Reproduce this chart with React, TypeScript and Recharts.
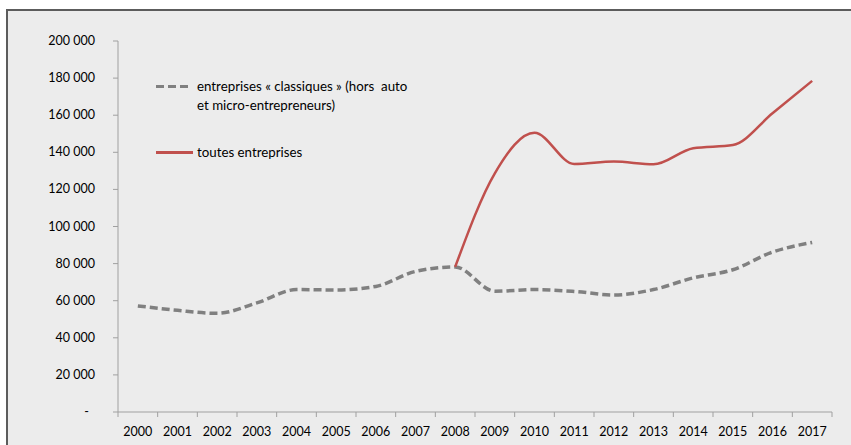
import React from 'react';
import { LineChart, Line, XAxis, YAxis, Legend } from 'recharts';

const years = ['2000', '2001', '2002', '2003', '2004', '2005', '2006', '2007', '2008',
    '2009', '2010', '2011', '2012', '2013', '2014', '2015', '2016', '2017'];

// entreprises « classiques » (hors auto et micro-entrepreneurs)
const classiques = [57200, 54800, 53200, 58800, 66000, 65800, 67700, 75800, 78200,
    65100, 66000, 65000, 63100, 66000, 72300, 76700, 86200, 91400];

// toutes entreprises (only from 2008)
const toutes = [null, null, null, null, null, null, null, null, 78200,
    128700, 150500, 133700, 135000, 133500, 142200, 143900, 161000, 178500];

const yTicks = [0, 20000, 40000, 60000, 80000, 100000, 120000, 140000, 160000, 180000, 200000];

const data = years.map((year, i) => ({
    year,
    classiques: classiques[i],
    toutes: toutes[i],
}));

const FONT = 'Lato, "Open Sans", sans-serif';
const AXIS_COLOR = '#a0a0a0';
const GREY = '#808080';
const RED = '#c0504d';

const PLOT_LEFT = 118;
const PLOT_RIGHT = 832;
const BAND = (PLOT_RIGHT - PLOT_LEFT) / years.length;

function formatThousands(v: number) {
    if (v === 0) return '-';
    return String(v).replace(/\B(?=(\d{3})+(?!\d))/g, ' ');
}

const XTick = (props: any) => {
    const { x, y, payload, index } = props;
    const half = BAND / 2;
    return (
        <g>
            <line x1={x - half} x2={x - half} y1={y} y2={y + 5} stroke={AXIS_COLOR} />
            {index === years.length - 1 && (
                <line x1={x + half} x2={x + half} y1={y} y2={y + 5} stroke={AXIS_COLOR} />
            )}
            <text x={x} y={y + 24} textAnchor="middle" fontSize={12.5} fontFamily={FONT} fill="#000">
                {payload.value}
            </text>
        </g>
    );
};

const YTick = (props: any) => {
    const { x, y, payload } = props;
    const isZero = payload.value === 0;
    return (
        <g>
            <line x1={x - 5} x2={x} y1={y} y2={y} stroke={AXIS_COLOR} />
            <text
                x={isZero ? x - 29 : x - 23}
                y={y + 4}
                textAnchor="end"
                fontSize={12.5}
                fontFamily={FONT}
                fill="#000"
            >
                {formatThousands(payload.value)}
            </text>
        </g>
    );
};

const renderLegend = () => (
    <div style={{ fontFamily: FONT, fontSize: 13.3, color: '#000', lineHeight: '19px', textAlign: 'left' }}>
        <div style={{ display: 'flex', alignItems: 'flex-start' }}>
            <svg width={41} height={19} style={{ flex: 'none' }}>
                <line x1={0} x2={35} y1={9.5} y2={9.5} stroke={GREY} strokeWidth={3} strokeDasharray="8 4" />
            </svg>
            <div style={{ whiteSpace: 'pre' }}>
                {'entreprises « classiques » (hors  auto\net micro-entrepreneurs)'}
            </div>
        </div>
        <div style={{ display: 'flex', alignItems: 'flex-start', marginTop: 28 }}>
            <svg width={41} height={19} style={{ flex: 'none' }}>
                <line x1={0} x2={37} y1={9.5} y2={9.5} stroke={RED} strokeWidth={3} />
            </svg>
            <div>toutes entreprises</div>
        </div>
    </div>
);

export default function App() {
    return (
        <div
            style={{
                position: 'fixed',
                left: 0,
                top: 0,
                width: 851,
                height: 445,
                overflow: 'hidden',
                background: '#ffffff',
            }}
        >
            <div
                style={{
                    position: 'absolute',
                    left: 6,
                    top: 9,
                    width: 900,
                    height: 500,
                    borderLeft: '2px solid #5c5c5c',
                    borderTop: '2px solid #5c5c5c',
                    background: '#ececec',
                }}
            />
            <div style={{ position: 'absolute', left: 0, top: 0 }}>
                <LineChart
                    width={851}
                    height={445}
                    data={data}
                    margin={{ top: 41, right: 851 - PLOT_RIGHT, left: 0, bottom: 8 }}
                >
                    <XAxis
                        dataKey="year"
                        axisLine={{ stroke: AXIS_COLOR }}
                        tickLine={false}
                        tickSize={0}
                        tickMargin={0}
                        height={25}
                        interval={0}
                        padding={{ left: BAND / 2, right: BAND / 2 }}
                        tick={<XTick />}
                    />
                    <YAxis
                        width={PLOT_LEFT}
                        domain={[0, 200000]}
                        ticks={yTicks}
                        interval={0}
                        axisLine={{ stroke: AXIS_COLOR }}
                        tickLine={false}
                        tickSize={0}
                        tickMargin={0}
                        tick={<YTick />}
                    />
                    <Legend
                        content={renderLegend}
                        layout="horizontal"
                        align="center"
                        verticalAlign="middle"
                        wrapperStyle={{ position: 'absolute', left: 156, top: 77, width: 320 }}
                    />
                    <Line
                        type="monotone"
                        dataKey="classiques"
                        stroke={GREY}
                        strokeWidth={3.5}
                        strokeDasharray="8 4"
                        dot={false}
                        activeDot={false}
                        isAnimationActive={false}
                    />
                    <Line
                        type="monotone"
                        dataKey="toutes"
                        stroke={RED}
                        strokeWidth={2.5}
                        dot={false}
                        activeDot={false}
                        isAnimationActive={false}
                    />
                </LineChart>
            </div>
        </div>
    );
}
